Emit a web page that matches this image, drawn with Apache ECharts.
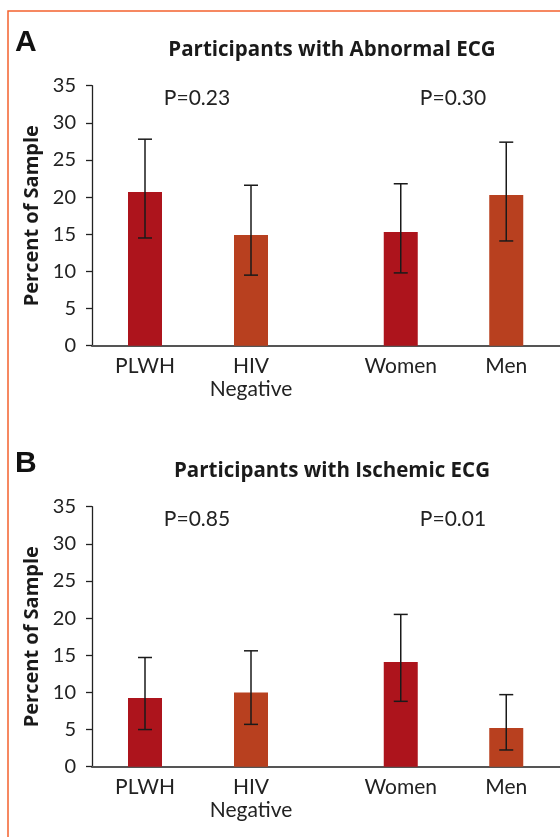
<!DOCTYPE html>
<html>
<head>
<meta charset="utf-8">
<script src="https://cdn.jsdelivr.net/npm/echarts@6/dist/echarts.min.js"></script>
<style>
html,body{margin:0;padding:0;background:#fff;}
#chart{width:560px;height:837px;}
</style>
</head>
<body>
<div id="chart"></div>
<script>
// ---- Data ----
const catsLeft = ['PLWH', 'HIV\nNegative'];
const catsRight = ['Women', 'Men'];
const yTicks = [0, 5, 10, 15, 20, 25, 30, 35];

// Panel A: Participants with Abnormal ECG (percent)
const abnVals = [20.7, 14.9, 15.3, 20.3];
const abnLow  = [14.5, 9.5, 9.8, 14.1];
const abnHigh = [27.8, 21.6, 21.8, 27.4];
const abnP = ['P=0.23', 'P=0.30'];

// Panel B: Participants with Ischemic ECG (percent)
const iscVals = [9.25, 10.0, 14.1, 5.2];
const iscLow  = [5.0, 5.7, 8.8, 2.25];
const iscHigh = [14.7, 15.6, 20.5, 9.7];
const iscP = ['P=0.85', 'P=0.01'];

const panelTitles = ['Participants with Abnormal ECG', 'Participants with Ischemic ECG'];
const panelLetters = ['A', 'B'];
const yName = 'Percent of Sample';

// ---- Styles ----
const C1 = '#AD141C', C2 = '#B8401F';
const FONT = 'Lato, "Open Sans", sans-serif';
const BFONT = '"Open Sans", Lato, sans-serif';
const panelTop = [85.7, 506.7];
const plotH = 260;

const grids = [], xAxes = [], yAxes = [], series = [], graphics = [];

function errRender(params, api) {
  const x = api.value(0);
  const lo = api.coord([x, api.value(1)]);
  const hi = api.coord([x, api.value(2)]);
  const cap = 7;
  const st = {stroke: '#1a1a1a', lineWidth: 1.5};
  return {type: 'group', children: [
    {type: 'line', shape: {x1: lo[0], y1: lo[1], x2: hi[0], y2: hi[1]}, style: st},
    {type: 'line', shape: {x1: hi[0]-cap, y1: hi[1], x2: hi[0]+cap, y2: hi[1]}, style: st},
    {type: 'line', shape: {x1: lo[0]-cap, y1: lo[1], x2: lo[0]+cap, y2: lo[1]}, style: st}
  ]};
}

function addPanel(p, vals, low, high, pl) {
  const top = panelTop[p];
  const gBase = grids.length;
  grids.push({left: 92, top: top, width: 468, height: plotH});
  xAxes.push({gridIndex: gBase, type: 'value', min: 0, max: 1,
    axisLine: {show: true, lineStyle: {color: '#555', width: 2}},
    axisTick: {show: false}, axisLabel: {show: false}, splitLine: {show: false}});
  yAxes.push({gridIndex: gBase, type: 'value', min: 0, max: 35, interval: 5,
    name: yName, nameLocation: 'middle', nameGap: 50, nameRotate: 90,
    nameTextStyle: {fontFamily: BFONT, fontWeight: 'bold', fontSize: 20, color: '#1a1a1a'},
    axisLine: {show: true, lineStyle: {color: '#222', width: 1.3}},
    axisTick: {show: true, inside: false, length: 6, lineStyle: {color: '#222', width: 1.3}},
    axisLabel: {fontFamily: FONT, fontSize: 20, color: '#222', margin: 16},
    splitLine: {show: false}});

  const halves = [[catsLeft, 92, 212, 0], [catsRight, 348, 211, 2]];
  halves.forEach(([cats, left, width, off]) => {
    const gi = grids.length;
    grids.push({left: left, top: top, width: width, height: plotH});
    xAxes.push({gridIndex: gi, type: 'category', data: cats, boundaryGap: true,
      axisLine: {show: false}, axisTick: {show: false},
      axisLabel: {fontFamily: FONT, fontSize: 21, color: '#222', margin: 9, lineHeight: 23, interval: 0}});
    yAxes.push({gridIndex: gi, type: 'value', min: 0, max: 35, show: false});
    const ai = xAxes.length - 1;
    series.push({type: 'bar', xAxisIndex: ai, yAxisIndex: ai, barWidth: 34,
      data: cats.map((c, i) => ({value: vals[off+i], itemStyle: {color: i === 0 ? C1 : C2}})),
      z: 2, silent: true});
    series.push({type: 'custom', xAxisIndex: ai, yAxisIndex: ai, renderItem: errRender,
      data: cats.map((c, i) => [i, low[off+i], high[off+i]]), z: 5, silent: true});
  });

  const dy = p * 421;
  graphics.push({type: 'text', left: 15, top: 28 + dy,
    style: {text: panelLetters[p], font: 'bold 30px "Liberation Sans", Arial, sans-serif', fill: '#111'}});
  graphics.push({type: 'text', x: 332, y: 50 + dy,
    style: {text: panelTitles[p], font: 'bold 20.5px ' + BFONT, fill: '#1a1a1a', textAlign: 'center', textVerticalAlign: 'middle'}});
  graphics.push({type: 'text', x: 197, y: 98 + dy,
    style: {text: pl[0], font: '21px ' + FONT, fill: '#222', textAlign: 'center', textVerticalAlign: 'middle'}});
  graphics.push({type: 'text', x: 453, y: 98 + dy,
    style: {text: pl[1], font: '21px ' + FONT, fill: '#222', textAlign: 'center', textVerticalAlign: 'middle'}});
}

addPanel(0, abnVals, abnLow, abnHigh, abnP);
addPanel(1, iscVals, iscLow, iscHigh, iscP);

graphics.push({type: 'rect', shape: {x: 8, y: 11, width: 700, height: 1000},
  style: {fill: 'none', stroke: '#F4622E', lineWidth: 1.5}, z: 100});

const chart = echarts.init(document.getElementById('chart'), null, {renderer: 'canvas'});
chart.setOption({
  backgroundColor: '#fff',
  animation: false,
  grid: grids, xAxis: xAxes, yAxis: yAxes, series: series, graphic: graphics
});
</script>
</body>
</html>
